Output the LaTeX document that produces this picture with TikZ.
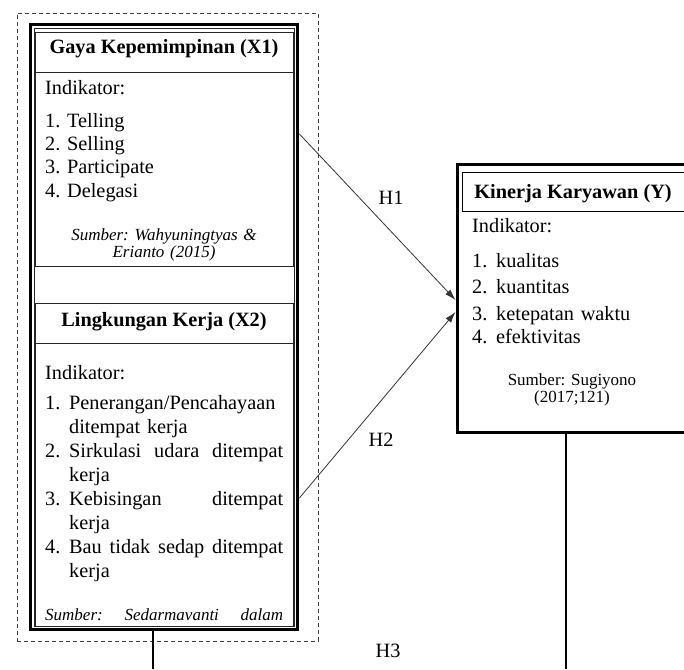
\documentclass[tikz,border=0pt]{standalone}
\usepackage{fontspec}
\setmainfont{Liberation Serif}
\usetikzlibrary{arrows.meta}

\newcommand{\numrow}[2]{\makebox[24pt][l]{#1}#2}
\newcommand{\fillrow}[1]{\makebox[214pt][l]{#1}}
\newcommand{\mainsize}{\fontsize{20.3}{23.4}\selectfont}
\newcommand{\srcsize}{\fontsize{17}{17}\selectfont}
\frenchspacing

\tikzset{
  box/.style={draw=black!85, line width=0.8pt, inner sep=0pt},
  thickbox/.style={draw, line width=3pt, inner sep=0pt},
  txt/.style={inner sep=0pt, font=\mainsize},
  src/.style={inner sep=0pt, font=\srcsize\itshape},
  link/.style={draw=black!80, line width=0.8pt, -{Latex[length=11pt,width=7pt]}},
  stem/.style={line width=2pt},
}

\begin{document}
\begin{tikzpicture}[x=1pt, y=-1pt]
  \useasboundingbox (0,0) rectangle (684,669);
  \clip (0,0) rectangle (684,669);

  % Group frame
  \node[draw=black!75, line width=0.8pt, dash pattern=on 4pt off 3pt, minimum width=301pt, minimum height=628pt, inner sep=0pt] (grp) at (167.5,327) {};

  % Left container (thick-thin border)
  \node[thickbox, minimum width=267pt, minimum height=605pt] (cont) at (164.4,327.4) {};
  \node[box, minimum width=260pt, minimum height=598.5pt] (contin) at (163.9,327.3) {};

  % X1
  \node[box, minimum width=258pt, minimum height=40pt] (x1head) at (164,52) {};
  \node[box, minimum width=258pt, minimum height=194pt] (x1body) at (164,169) {};
  \node[txt, font=\mainsize\bfseries, anchor=base] (x1name) at (164,53) {Gaya Kepemimpinan (X1)};
  \node[txt, anchor=base west, text width=230pt] (x1list) at (45,94) {Indikator:\\[9.6pt]
    1. Telling\\
    2. Selling\\
    3. Participate\\
    4. Delegasi};
  \node[src, anchor=base, text width=230pt, align=center] (x1src) at (164,240) {Sumber: Wahyuningtyas \&\\ Erianto (2015)};

  % X2
  \node[box, minimum width=258pt, minimum height=40pt] (x2head) at (164,323) {};
  \node[box, minimum width=258pt, minimum height=283.5pt] (x2body) at (164,484.8) {};
  \node[txt, font=\mainsize\bfseries, anchor=base] (x2name) at (164,326) {Lingkungan Kerja (X2)};
  \node[txt, anchor=base west, text width=240pt] (x2list) at (45,379) {\fontsize{20.3}{24.1}\selectfont Indikator:\\[5.9pt]
    \numrow{1.}{Penerangan/Pencahayaan}\\
    \numrow{}{ditempat kerja}\\
    \numrow{2.}{\fillrow{Sirkulasi\hfill udara\hfill ditempat}}\\
    \numrow{}{kerja}\\
    \numrow{3.}{\fillrow{Kebisingan\hfill ditempat}}\\
    \numrow{}{kerja}\\
    \numrow{4.}{\fillrow{Bau\hfill tidak\hfill sedap\hfill ditempat}}\\
    \numrow{}{kerja}};
  \node[src, anchor=base west] (x2src) at (45,620) {\makebox[238pt][l]{Sumber:\hfill Sedarmavanti\hfill dalam}};

  % Y
  \node[thickbox, minimum width=243pt, minimum height=268pt] (ybox) at (578.5,298.5) {};
  \node[draw, line width=0.9pt, inner sep=0pt, minimum width=225pt, minimum height=39pt] (yhead) at (574.5,191.5) {};
  \node[txt, font=\mainsize\bfseries, anchor=base] (yname) at (573,198) {Kinerja Karyawan (Y)};
  \node[txt, anchor=base west, text width=200pt] (ylist) at (472,232) {\fontsize{20.3}{26.7}\selectfont Indikator:\\[8.3pt]
    \numrow{1.}{kualitas}\\
    \numrow{2.}{kuantitas}\\
    \numrow{3.}{ketepatan waktu}\\
    \numrow{4.}{efektivitas}};
  \node[inner sep=0pt, font=\srcsize, anchor=base, text width=200pt, align=center] (ysrc) at (572,385) {\fontsize{17}{20}\selectfont Sumber: Sugiyono\\ (2017;121)};

  % Links
  \draw[link] (cont.east |- 0,134) -- (ybox.west |- 0,300);
  \draw[link] (cont.east |- 0,498) -- (ybox.west |- 0,312);
  \node[txt, anchor=base] (h1) at (391,204) {H1};
  \node[txt, anchor=base] (h2) at (381,446) {H2};
  \node[txt, anchor=base] (h3) at (388,657) {H3};

  % Stems to the lower part
  \coordinate (lend) at (153,669);
  \coordinate (rend) at (566,669);
  \draw[stem] (cont.south -| lend) -- (lend);
  \draw[stem] (ybox.south -| rend) -- (rend);
\end{tikzpicture}
\end{document}
